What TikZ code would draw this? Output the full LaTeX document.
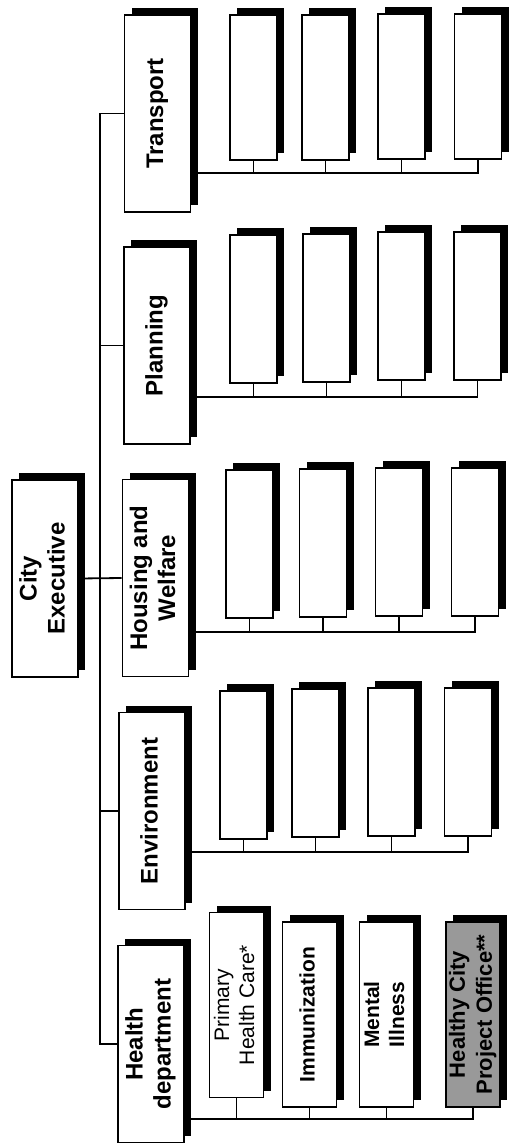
\documentclass[tikz,border=0pt]{standalone}
\usepackage{fontspec}
\setmainfont{Liberation Sans}
\usepackage{tikz}
\usetikzlibrary{shadows}

\newcommand{\vlabel}[1]{\rotatebox{90}{\begin{tabular}{@{}c@{}}#1\end{tabular}}}

\begin{document}
\begin{tikzpicture}[x=1pt,y=-1pt,
  box/.style={draw,fill=white,line width=1.9pt,inner sep=0pt,
    drop shadow={shadow xshift=7pt,shadow yshift=7pt,fill=black,opacity=1}},
  dept/.style={box,minimum width=66pt,minimum height=197pt,
    font=\fontsize{24}{28}\selectfont\bfseries},
  unit/.style={box,minimum width=47pt,minimum height=148pt},
  hunit/.style={box,minimum width=54pt,minimum height=185pt,
    font=\fontsize{21}{25}\selectfont\bfseries},
  link/.style={line width=1.8pt},
  stub/.style={line width=1.3pt}]
\useasboundingbox (0,0) rectangle (511,1148);

% executive and departments
\node [dept] (ce) at (45,578.5) {\vlabel{City\\Executive}};
\node [dept] (tr) at (157.5,113.5) {\vlabel{Transport}};
\node [dept] (pl) at (157,345.5) {\vlabel{Planning}};
\node [dept] (hw) at (155.5,578) {\vlabel{Housing and\\Welfare}};
\node [dept] (en) at (152,811) {\vlabel{Environment}};
\node [dept] (hd) at (151,1044) {\vlabel{Health\\department}};

% units of transport
\node [unit,minimum height=145pt] (t1) at (253.5,87.5) {};
\node [unit,minimum height=145pt] (t2) at (325.5,87.5) {};
\node [unit,minimum height=145pt] (t3) at (401.5,86.5) {};
\node [unit,minimum height=145pt] (t4) at (478,86.5) {};

% units of planning
\node [unit] (p1) at (253.5,309) {};
\node [unit] (p2) at (326.5,308) {};
\node [unit] (p3) at (401.5,306) {};
\node [unit] (p4) at (477.5,306) {};

% units of housing and welfare
\node [unit] (w1) at (249.5,544) {};
\node [unit] (w2) at (323,543) {};
\node [unit] (w3) at (399,542) {};
\node [unit] (w4) at (475,542) {};

% units of environment
\node [unit] (e1) at (243.5,765) {};
\node [unit] (e2) at (315.5,763) {};
\node [unit] (e3) at (391.5,762) {};
\node [unit] (e4) at (468,762) {};

% units of health
\node [hunit,font=\fontsize{21}{25}\selectfont] (h1) at (236.5,1005) {\vlabel{Primary\\Health Care*}};
\node [hunit] (h2) at (309.5,1014.5) {\vlabel{Immunization}};
\node [hunit] (h3) at (386.5,1014.5) {\vlabel{Mental\\Illness}};
\node [hunit,fill=black!40,font=\fontsize{22}{27}\selectfont\bfseries] (h4) at (473,1014.5) {\vlabel{Healthy City\\Project Office**}};

% spine
\coordinate (sp) at (100,0);
\draw [link] (tr.west) -- (tr.west -| sp) -- (hd.west -| sp) -- (hd.west);
\draw [link] (pl.west) -- (pl.west -| sp);
\draw [link] (en.west) -- (en.west -| sp);
\draw [link] (ce.east) -- (hw.west);

% bus lines
\coordinate (tbus) at (0,173);
\coordinate (pbus) at (0,397);
\coordinate (wbus) at (0,632);
\coordinate (ebus) at (0,852);
\coordinate (hbus) at (0,1119);
\draw [link] (tr.east |- tbus) -| (t4.south);
\draw [stub] (t1.south) -- (t1.south |- tbus);
\draw [stub] (t2.south) -- (t2.south |- tbus);
\draw [stub] (t3.south) -- (t3.south |- tbus);
\draw [link] (pl.east |- pbus) -| (p4.south);
\draw [stub] (p1.south) -- (p1.south |- pbus);
\draw [stub] (p2.south) -- (p2.south |- pbus);
\draw [stub] (p3.south) -- (p3.south |- pbus);
\draw [link] (hw.east |- wbus) -| (w4.south);
\draw [stub] (w1.south) -- (w1.south |- wbus);
\draw [stub] (w2.south) -- (w2.south |- wbus);
\draw [stub] (w3.south) -- (w3.south |- wbus);
\draw [link] (en.east |- ebus) -| (e4.south);
\draw [stub] (e1.south) -- (e1.south |- ebus);
\draw [stub] (e2.south) -- (e2.south |- ebus);
\draw [stub] (e3.south) -- (e3.south |- ebus);
\draw [link] (hd.east |- hbus) -| (h4.south);
\draw [stub] (h1.south) -- (h1.south |- hbus);
\draw [stub] (h2.south) -- (h2.south |- hbus);
\draw [stub] (h3.south) -- (h3.south |- hbus);
\end{tikzpicture}
\end{document}
